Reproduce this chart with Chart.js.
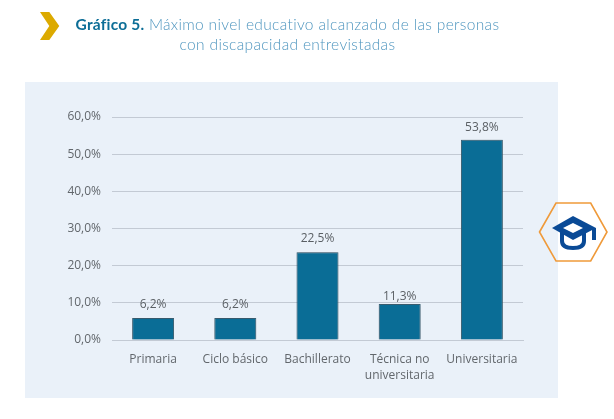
<!DOCTYPE html>
<html lang="es"><head><meta charset="utf-8">
<script src="https://cdn.jsdelivr.net/npm/chart.js@4"></script>
<style>
html,body{margin:0;padding:0;background:#fff;width:614px;height:419px;overflow:hidden}
#panel{position:absolute;left:25px;top:82px;width:533px;height:316px;background:#eaf1f9}
#panel canvas{position:absolute;left:0;top:0}
#title{position:absolute;left:40px;top:15px;width:495px;text-align:center;font:300 15.5px/19.5px Lato,sans-serif;color:#4f96bf;letter-spacing:.34px}
#title b{font-weight:700;color:#0d6e97;letter-spacing:.2px}
svg{position:absolute;left:0;top:0}
</style></head><body>
<div id="panel"><canvas id="c" width="533" height="316"></canvas></div>
<svg width="614" height="419">
<polygon points="40,12 49.3,12 59.3,26 49.3,40 40,40 49.3,26" fill="#dcaa00"/>
<polygon points="539.5,232 556,203 590.7,203 607,232 590.7,261 556,261" fill="none" stroke="#ef9a3a" stroke-width="1.6"/>
<path d="M562 232v9c0 5 5 7 11 7s11-2 11-7v-9" fill="none" stroke="#0a4a96" stroke-width="4"/>
<polygon points="573,216 596,228 573,240 552,228" fill="#0a4a96"/>
<polygon points="573,223 583,228 573,233 563,228" fill="#fff"/>
<path d="M594 228v12" stroke="#0a4a96" stroke-width="4" fill="none"/>
</svg>
<div id="title"><b>Gráfico 5.</b> Máximo nivel educativo alcanzado de las personas<br>con discapacidad entrevistadas</div>
<script>
const categories=["Primaria","Ciclo básico","Bachillerato",["Técnica no","universitaria"],"Universitaria"];
const barHeights=[5.9,5.9,23.6,9.7,53.9];
const valueLabels=["6,2%","6,2%","22,5%","11,3%","53,8%"];
const yTicks=["0,0%","10,0%","20,0%","30,0%","40,0%","50,0%","60,0%"];
const labelGaps=[13,13,14,7,12];

const barExtras={id:'barExtras',
 beforeDatasetsDraw(ch){const x=ch.ctx;x.save();x.shadowColor='rgba(40,50,60,.45)';x.shadowBlur=3;x.shadowOffsetX=0;x.shadowOffsetY=0;},
 afterDatasetsDraw(ch){const x=ch.ctx;x.restore();x.save();
  x.font='400 12px "Open Sans",sans-serif';x.fillStyle='#5a5f64';x.textAlign='center';x.textBaseline='middle';
  ch.getDatasetMeta(0).data.forEach((b,i)=>x.fillText(valueLabels[i],b.x,b.y-labelGaps[i]));
  x.restore();}};

new Chart(document.getElementById('c'),{type:'bar',
 data:{labels:categories,datasets:[{data:barHeights,backgroundColor:'#0a6d96',borderColor:'#3d6377',borderWidth:1,barPercentage:.51,categoryPercentage:1}]},
 plugins:[barExtras],
 options:{responsive:false,animation:false,devicePixelRatio:1,
  layout:{padding:{left:0,top:35,right:35,bottom:0}},
  plugins:{legend:{display:false},title:{display:false},tooltip:{enabled:false}},
  scales:{
   x:{grid:{display:false},border:{color:'#c3cad4'},
      afterFit(s){s.height=58},
      ticks:{color:'#62676c',font:{family:'"Open Sans"',size:12,weight:400,lineHeight:1.35},maxRotation:0,autoSkip:false,padding:3}},
   y:{min:0,max:60,afterFit(s){s.width=87},
      grid:{color:'#c3cad4',drawTicks:false},border:{display:false},
      ticks:{stepSize:10,padding:11,color:'#62676c',font:{family:'"Open Sans"',size:12,weight:400},callback:(v)=>yTicks[v/10]}}
  }}});
</script></body></html>
